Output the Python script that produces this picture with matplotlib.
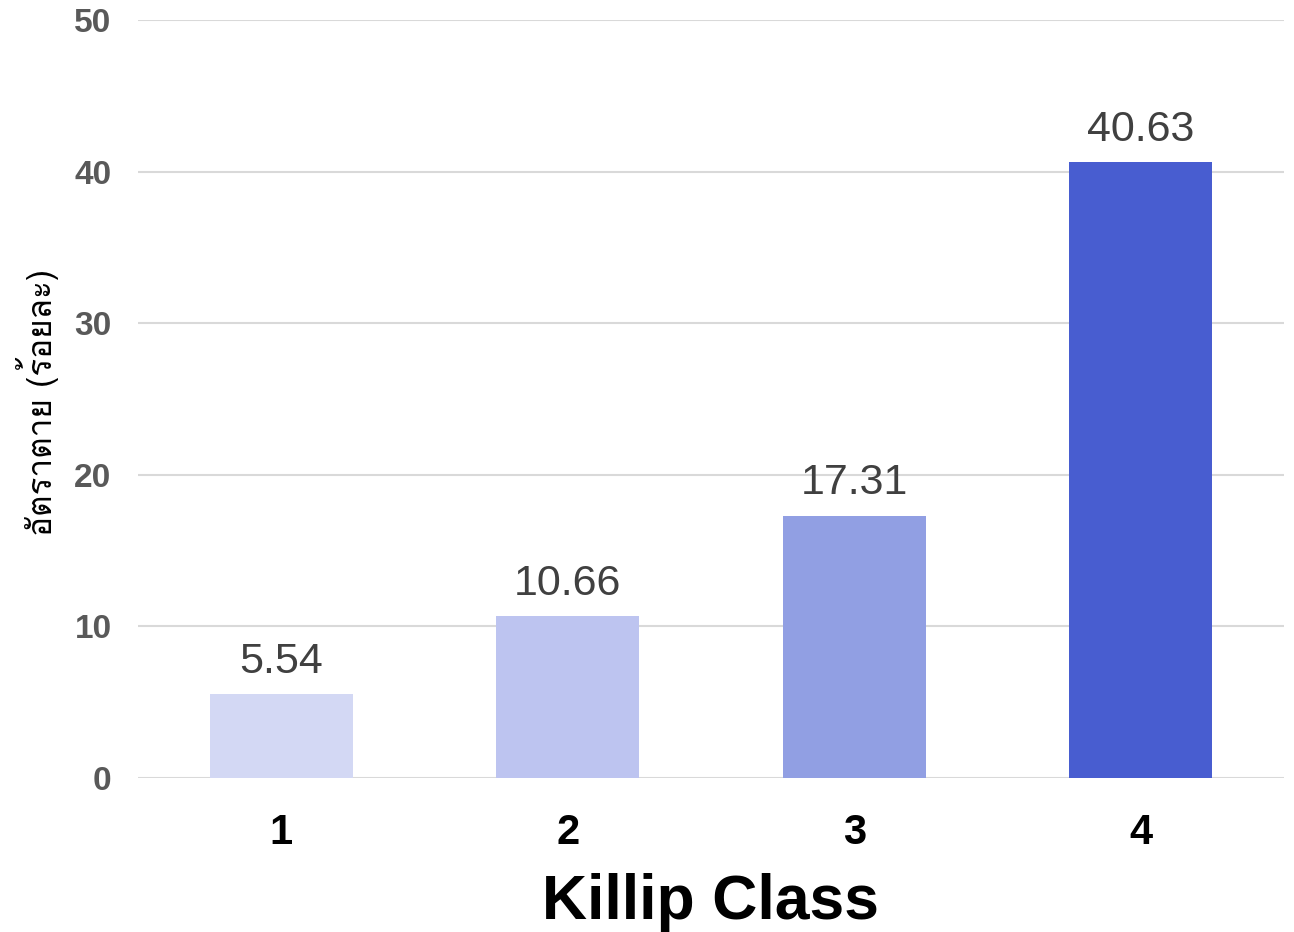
import matplotlib
matplotlib.use('Agg')
import matplotlib.pyplot as plt
from matplotlib import font_manager
from matplotlib.ft2font import FT2Font

categories = ['1', '2', '3', '4']
mortality = [5.54, 10.66, 17.31, 40.63]
colors = ['#d3d8f4', '#bdc4f0', '#919fe3', '#485dd0']
ylabel = 'อัตราตาย (ร้อยละ)'
xlabel = 'Killip Class'

# find an installed font that has Thai glyphs
thai_font = None
for f in font_manager.fontManager.ttflist:
    try:
        if 0x0E2D in FT2Font(f.fname).get_charmap():
            thai_font = f.name
            break
    except Exception:
        pass

plt.rcParams['font.family'] = ['Liberation Sans', 'DejaVu Sans']

fig = plt.figure(figsize=(12.94, 9.32), dpi=100)
ax = fig.add_axes([138/1294, 1 - 778/932, (1284-138)/1294, (778-20)/932])

x = range(len(categories))
bars = ax.bar(x, mortality, width=0.5, color=colors, zorder=3)
ax.bar_label(bars, labels=[f'{v:.2f}' for v in mortality], padding=9,
             fontsize=31, color='#404040')

ax.set_xlim(-0.5, 3.5)
ax.set_ylim(0, 50)
ax.set_yticks(range(0, 51, 10))
ax.set_xticks(list(x))
ax.set_xticklabels(categories)
ax.grid(axis='y', color='#d9d9d9', linewidth=1.5, zorder=0)
ax.set_axisbelow(True)
for s in ax.spines.values():
    s.set_visible(False)
ax.tick_params(axis='y', length=0, pad=19, labelsize=24, labelcolor='#595959')
ax.tick_params(axis='x', length=0, pad=25, labelsize=30, labelcolor='black')
for t in ax.get_yticklabels() + ax.get_xticklabels():
    t.set_fontweight('bold')

fig.text(711/1294, 1 - 903/932, xlabel, ha='center', va='center',
         fontsize=45, fontweight='bold', color='black')
fam = [thai_font, 'DejaVu Sans'] if thai_font else ['DejaVu Sans']
fig.text(38/1294, 1 - 402/932, ylabel, rotation=90, ha='center', va='center',
         fontsize=24, color='black', family=fam)

fig.savefig('out.png', dpi=100)
